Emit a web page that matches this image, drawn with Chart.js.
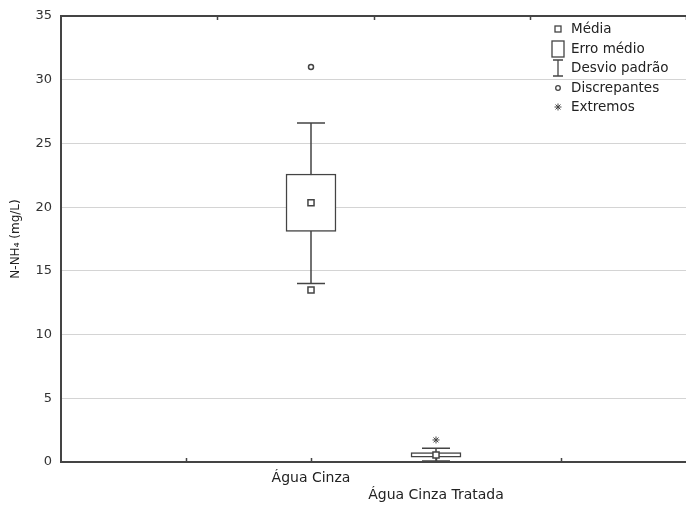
<!DOCTYPE html>
<html>
<head>
<meta charset="utf-8">
<script src="https://cdn.jsdelivr.net/npm/chart.js@4.4.1/dist/chart.umd.min.js"></script>
<style>
  html, body { margin: 0; padding: 0; background: #fff; }
</style>
</head>
<body>
<canvas id="chart" width="686" height="505"></canvas>
<script>
// N-NH4 statistics per sample type
const categories = ['Água Cinza', 'Água Cinza Tratada'];
const means    = [20.35, 0.55];
const seLow    = [18.1, 0.37];
const seHigh   = [22.6, 0.73];
const sdLow    = [14.0, 0.08];
const sdHigh   = [26.6, 1.07];
const outliers = [[31.0], []];
const lowMarks = [[13.5], []];
const extremes = [[], [1.73]];
const yTicks   = [0, 5, 10, 15, 20, 25, 30, 35];

const INK = '#444';
const FONT = 'DejaVu Sans';

// categories sit on the 2nd and 3rd of five slots
const slot = i => i + 2;

const pointsFrom = lists => lists.flatMap((vals, i) => vals.map(v => ({ x: slot(i), y: v })));

// SD whiskers with caps, drawn under the SE boxes
const whiskers = {
  id: 'whiskers',
  beforeDatasetsDraw(chart) {
    const { ctx, scales: { x, y } } = chart;
    ctx.save();
    ctx.strokeStyle = INK;
    ctx.lineWidth = 1.5;
    categories.forEach((c, i) => {
      const px = x.getPixelForValue(slot(i));
      const top = y.getPixelForValue(sdHigh[i]);
      const bot = y.getPixelForValue(sdLow[i]);
      ctx.beginPath();
      ctx.moveTo(px, top); ctx.lineTo(px, bot);
      ctx.moveTo(px - 14, top); ctx.lineTo(px + 14, top);
      ctx.moveTo(px - 14, bot); ctx.lineTo(px + 14, bot);
      ctx.stroke();
    });
    ctx.restore();
  }
};

// frame top line, inward ticks and the legend box
const frame = {
  id: 'frame',
  afterDraw(chart) {
    const { ctx, chartArea: a, scales: { x } } = chart;
    ctx.save();
    ctx.strokeStyle = INK;
    ctx.lineWidth = 2;
    ctx.beginPath();
    ctx.moveTo(a.left - 1, a.top); ctx.lineTo(a.right, a.top);
    ctx.stroke();

    ctx.lineWidth = 1.5;
    ctx.beginPath();
    for (let k = 1; k <= 4; k++) {
      const bx = Math.round(x.getPixelForValue(k)) + 0.5;
      ctx.moveTo(bx, a.bottom); ctx.lineTo(bx, a.bottom - 4);
      const tx = Math.round(a.left + k * (a.right - a.left) / 4) + 0.5;
      ctx.moveTo(tx, a.top); ctx.lineTo(tx, a.top + 4);
    }
    ctx.stroke();

    // legend
    const sx = 558, tx = 571;
    const rows = [
      { label: 'Média', y: 29 },
      { label: 'Erro médio', y: 49 },
      { label: 'Desvio padrão', y: 68 },
      { label: 'Discrepantes', y: 88 },
      { label: 'Extremos', y: 107 }
    ];
    ctx.fillStyle = '#222';
    ctx.font = '13.5px "' + FONT + '"';
    ctx.textBaseline = 'middle';
    rows.forEach(r => ctx.fillText(r.label, tx, r.y));

    ctx.strokeStyle = INK;
    ctx.lineWidth = 1.3;
    ctx.strokeRect(sx - 3, rows[0].y - 3, 6, 6);
    ctx.strokeRect(sx - 6, rows[1].y - 8, 12, 16);
    ctx.beginPath();
    ctx.moveTo(sx - 5, rows[2].y - 8); ctx.lineTo(sx + 5, rows[2].y - 8);
    ctx.moveTo(sx, rows[2].y - 8); ctx.lineTo(sx, rows[2].y + 8);
    ctx.moveTo(sx - 5, rows[2].y + 8); ctx.lineTo(sx + 5, rows[2].y + 8);
    ctx.stroke();
    ctx.beginPath();
    ctx.arc(sx, rows[3].y, 2.3, 0, Math.PI * 2);
    ctx.stroke();
    ctx.lineWidth = 1;
    ctx.beginPath();
    for (let k = 0; k < 4; k++) {
      const ang = k * Math.PI / 4;
      ctx.moveTo(sx - 3.5 * Math.cos(ang), rows[4].y - 3.5 * Math.sin(ang));
      ctx.lineTo(sx + 3.5 * Math.cos(ang), rows[4].y + 3.5 * Math.sin(ang));
    }
    ctx.stroke();
    ctx.restore();
  }
};

const ctx = document.getElementById('chart').getContext('2d');

new Chart(ctx, {
  type: 'scatter',
  data: {
    datasets: [
      {
        label: 'Média',
        data: categories.map((c, i) => ({ x: slot(i), y: means[i] })),
        pointStyle: 'rect',
        pointRadius: 4.3,
        backgroundColor: '#fff',
        borderColor: INK,
        borderWidth: 1.5
      },
      {
        label: 'Mínimo',
        data: pointsFrom(lowMarks),
        pointStyle: 'rect',
        pointRadius: 4.3,
        backgroundColor: '#fff',
        borderColor: INK,
        borderWidth: 1.5
      },
      {
        label: 'Discrepantes',
        data: pointsFrom(outliers),
        pointStyle: 'circle',
        pointRadius: 2.5,
        backgroundColor: '#fff',
        borderColor: INK,
        borderWidth: 1.5
      },
      {
        label: 'Extremos',
        data: pointsFrom(extremes),
        pointStyle: 'star',
        pointRadius: 3.5,
        borderColor: INK,
        borderWidth: 1
      },
      {
        type: 'bar',
        label: 'Erro médio',
        data: categories.map((c, i) => ({ x: slot(i), y: [seLow[i], seHigh[i]] })),
        backgroundColor: '#fff',
        borderColor: INK,
        borderWidth: 1.5,
        borderSkipped: false,
        barThickness: 50
      }
    ]
  },
  options: {
    responsive: false,
    animation: false,
    events: [],
    layout: { autoPadding: false, padding: { top: 16, right: 0, left: 0, bottom: 0 } },
    plugins: {
      legend: { display: false },
      tooltip: { enabled: false }
    },
    scales: {
      x: {
        type: 'linear',
        min: 0,
        max: 5,
        offset: false,
        afterBuildTicks: s => { s.ticks = [0, 1, 2, 3, 4, 5].map(v => ({ value: v })); },
        afterFit: s => { s.height = 43; s.paddingLeft = 0; s.paddingRight = 0; },
        grid: { display: false, drawTicks: false },
        border: { display: true, color: INK, width: 2 },
        ticks: {
          autoSkip: false,
          maxRotation: 0,
          padding: 8,
          color: '#222',
          font: { family: FONT, size: 14 },
          callback: v => {
            const i = v - 2;
            if (i === 0) return [categories[0]];
            if (i === 1) return ['', categories[1]];
            return '';
          }
        }
      },
      y: {
        min: 0,
        max: 35,
        afterBuildTicks: s => { s.ticks = yTicks.map(v => ({ value: v })); },
        afterFit: s => { s.width = 61; s.paddingTop = 0; s.paddingBottom = 0; },
        grid: { color: '#d4d4d4', lineWidth: 1, drawTicks: false },
        border: { display: true, color: INK, width: 2 },
        ticks: {
          padding: 9,
          color: '#333',
          font: { family: FONT, size: 13 }
        },
        title: {
          display: true,
          text: 'N-NH₄ (mg/L)',
          color: '#222',
          font: { family: FONT, size: 12 },
          padding: { top: 9, bottom: 0 }
        }
      }
    }
  },
  plugins: [whiskers, frame]
});
</script>
</body>
</html>
